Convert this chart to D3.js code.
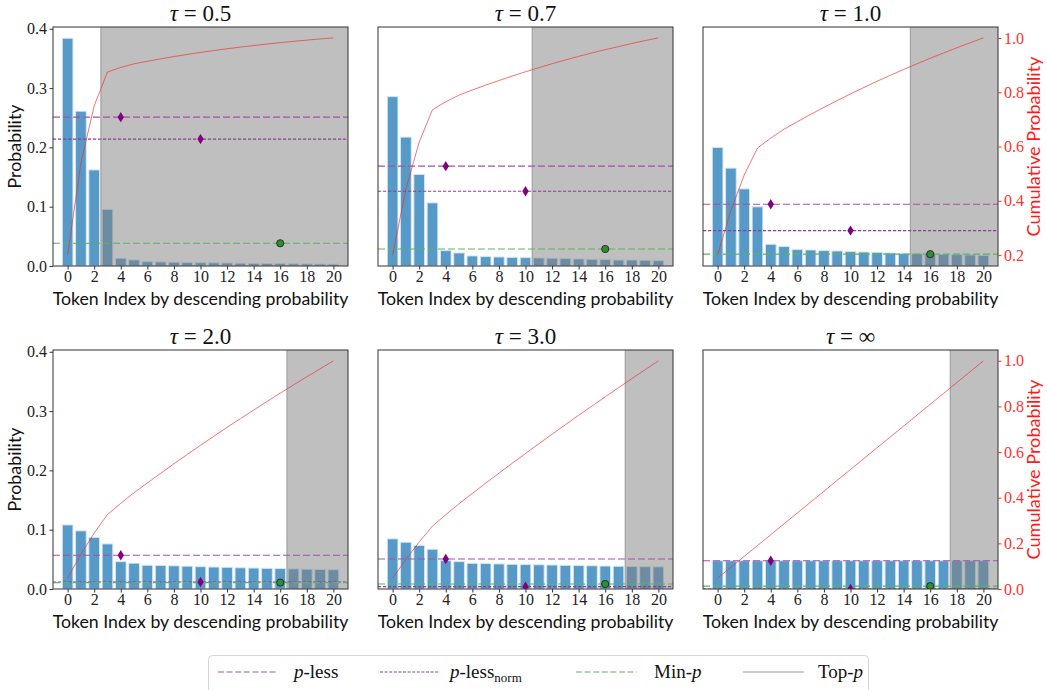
<!DOCTYPE html>
<html>
<head>
<meta charset="utf-8">
<script src="https://cdn.jsdelivr.net/npm/d3@7"></script>
<style>
    body { margin: 0; background: #fff; }
</style>
</head>
<body>
<svg id="chart" width="1047" height="690"></svg>
<script>
// ---- data ----
let temperatures = ["0.5", "0.7", "1.0", "2.0", "3.0", "\u221E"];
let tokenIndex = [0, 1, 2, 3, 4, 5, 6, 7, 8, 9, 10, 11, 12, 13, 14, 15, 16, 17, 18, 19, 20];

let probsT05 = [0.384, 0.261, 0.162, 0.0956, 0.013, 0.0103, 0.0072, 0.0069, 0.0064, 0.0061, 0.0056,
    0.0053, 0.0051, 0.0047, 0.0044, 0.0042, 0.0040, 0.0037, 0.0035, 0.0033, 0.0031];
let probsT07 = [0.2855, 0.2173, 0.1543, 0.1064, 0.0259, 0.022, 0.0169, 0.0158, 0.0152, 0.0146, 0.0141,
    0.0135, 0.013, 0.0124, 0.0118, 0.0113, 0.0107, 0.0101, 0.0101, 0.0096, 0.009];
let probsT10 = [0.1999, 0.165, 0.130, 0.0997, 0.0366, 0.0327, 0.0276, 0.027, 0.0259, 0.0253, 0.0242,
    0.0236, 0.0231, 0.022, 0.0214, 0.0208, 0.0203, 0.0197, 0.0191, 0.0186, 0.018];
let probsT20 = [0.108, 0.098, 0.087, 0.076, 0.046, 0.0435, 0.040, 0.0395, 0.039, 0.0384, 0.0376,
    0.037, 0.0366, 0.0358, 0.0353, 0.0348, 0.0344, 0.0339, 0.0334, 0.0329, 0.0324];
let probsT30 = [0.0845, 0.0788, 0.0732, 0.067, 0.0478, 0.0461, 0.0433, 0.0428, 0.0422, 0.0416, 0.0411,
    0.0408, 0.0404, 0.0399, 0.0394, 0.0391, 0.0387, 0.0383, 0.038, 0.0376, 0.0373];
let probsTInf = [0.0476, 0.0476, 0.0476, 0.0476, 0.0476, 0.0476, 0.0476, 0.0476, 0.0476, 0.0476, 0.0476,
    0.0476, 0.0476, 0.0476, 0.0476, 0.0476, 0.0476, 0.0476, 0.0476, 0.0476, 0.0476];

let plessThreshold     = [0.251, 0.1684, 0.1042, 0.0569, 0.0507, 0.0476];
let plessNormThreshold = [0.214, 0.1261, 0.0597, 0.0118, 0.0040, 0.0];
let minpThreshold      = [0.0383, 0.0287, 0.0200, 0.0108, 0.0084, 0.0048];
let topPCutoff         = [2.5, 10.5, 14.5, 16.5, 17.5, 17.5];

// where the threshold markers sit on the x axis
let markerIndex = {pless: 4, plessNorm: 10, minp: 16};

let xTicks = [0, 2, 4, 6, 8, 10, 12, 14, 16, 18, 20];
let yTicks = [0, 0.1, 0.2, 0.3, 0.4];
// right-hand (cumulative) ticks, shown on the last column only
let cumTicksTop = [0.2, 0.4, 0.6, 0.8, 1.0];
let cumTicksBottom = [0.0, 0.2, 0.4, 0.6, 0.8, 1.0];

let allProbs = [probsT05, probsT07, probsT10, probsT20, probsT30, probsTInf];

// ---- layout ----
let serif = '"Liberation Serif", "DejaVu Serif", serif';
let sans = 'Lato, "Open Sans", sans-serif';

let colX = [53, 378, 703];
let rowY = [27, 350];
let axW = 295, axH = 239;

let svg = d3.select("#chart");

let x = d3.scaleLinear().domain([-1.1, 21.1]).range([0, axW]);
let y = d3.scaleLinear().domain([0, 0.403]).range([axH, 0]);

let plessColor = "#a850a8";
let plessNormColor = "#8e3c9c";
let minpColor = "#5fb35f";

let diamond = "M0,-5.2L3.2,0L0,5.2L-3.2,0Z";

// shrink / grow a text so it spans a given width
function fitText(sel, width) {
    let node = sel.node();
    let size = parseFloat(sel.attr("font-size"));
    let len = node.getComputedTextLength();
    sel.attr("font-size", (size * width / len).toFixed(2));
}

allProbs.forEach((probs, i) => {
    let col = i % 3, row = Math.floor(i / 3);
    let g = svg.append("g").attr("transform", `translate(${colX[col]},${rowY[row]})`);

    g.append("clipPath").attr("id", "clip" + i)
        .append("rect").attr("width", axW).attr("height", axH);

    let plot = g.append("g").attr("clip-path", `url(#clip${i})`);

    // bars
    plot.selectAll("rect.bar")
        .data(probs)
        .join("rect")
        .attr("class", "bar")
        .attr("x", (d, j) => x(tokenIndex[j] - 0.4))
        .attr("width", x(0.8) - x(0))
        .attr("y", d => y(d))
        .attr("height", d => y(0) - y(d))
        .attr("fill", "#1f77b4")
        .attr("fill-opacity", 0.75)
        .attr("stroke", "#d4e6f3")
        .attr("stroke-width", 0.9);

    // top-p excluded region
    let cut = topPCutoff[i];
    plot.append("rect")
        .attr("x", x(cut))
        .attr("y", 0)
        .attr("width", axW - x(cut))
        .attr("height", axH)
        .attr("fill", "#808080")
        .attr("fill-opacity", 0.5);
    plot.append("line")
        .attr("x1", x(cut)).attr("x2", x(cut))
        .attr("y1", 0).attr("y2", axH)
        .attr("stroke", "#808080")
        .attr("stroke-opacity", 0.7)
        .attr("stroke-width", 1);

    // thresholds
    let hline = (val, color, dash) => {
        plot.append("line")
            .attr("x1", 0).attr("x2", axW)
            .attr("y1", y(val)).attr("y2", y(val))
            .attr("stroke", color)
            .attr("stroke-width", 1.1)
            .attr("stroke-dasharray", dash);
    };
    hline(plessThreshold[i], plessColor, "7,3");
    hline(plessNormThreshold[i], plessNormColor, "3.2,1.8");
    hline(minpThreshold[i], minpColor, "7,3");

    plot.append("path")
        .attr("d", diamond)
        .attr("transform", `translate(${x(markerIndex.pless)},${y(plessThreshold[i])})`)
        .attr("fill", "#800080");
    plot.append("path")
        .attr("d", diamond)
        .attr("transform", `translate(${x(markerIndex.plessNorm)},${y(plessNormThreshold[i])})`)
        .attr("fill", "#800080");
    plot.append("circle")
        .attr("cx", x(markerIndex.minp))
        .attr("cy", y(minpThreshold[i]))
        .attr("r", 3.6)
        .attr("fill", "#2f8f2f")
        .attr("stroke", "#222")
        .attr("stroke-width", 0.9);

    // cumulative probability on its own (twin) scale
    let cum = Array.from(d3.cumsum(probs));
    let ext = d3.extent(cum);
    let pad = (ext[1] - ext[0]) * 0.05;
    let yc = d3.scaleLinear().domain([ext[0] - pad, ext[1] + pad]).range([axH, 0]);

    g.append("path")
        .datum(cum)
        .attr("d", d3.line().x((d, j) => x(tokenIndex[j])).y(d => yc(d)))
        .attr("fill", "none")
        .attr("stroke", "#f03030")
        .attr("stroke-opacity", 0.75)
        .attr("stroke-width", 0.9);

    // frame
    g.append("rect")
        .attr("width", axW).attr("height", axH)
        .attr("fill", "none")
        .attr("stroke", "#333")
        .attr("stroke-width", 1);

    // x axis
    let xAxis = g.append("g")
        .attr("transform", `translate(0,${axH})`)
        .call(d3.axisBottom(x).tickValues(xTicks).tickFormat(d3.format("d")).tickSize(3.5).tickPadding(1.5));
    xAxis.select(".domain").remove();
    xAxis.selectAll(".tick line").attr("stroke", "#333");
    xAxis.selectAll(".tick text")
        .attr("font-family", serif).attr("font-size", 16).attr("fill", "#222");

    let xl = g.append("text")
        .attr("x", axW / 2).attr("y", axH + 39)
        .attr("text-anchor", "middle")
        .attr("font-family", sans).attr("font-size", 19)
        .attr("fill", "#111")
        .text("Token Index by descending probability");
    fitText(xl, 296);

    // title
    let title = g.append("text")
        .attr("x", axW / 2).attr("y", -6)
        .attr("text-anchor", "middle")
        .attr("font-family", serif).attr("font-size", 23)
        .attr("fill", "#111");
    title.append("tspan").attr("font-style", "italic").text("\u03C4");
    title.append("tspan").text(" = " + temperatures[i]);

    // left axis only on first column
    if (col === 0) {
        let yAxis = g.append("g")
            .call(d3.axisLeft(y).tickValues(yTicks).tickFormat(d3.format(".1f")).tickSize(3.5).tickPadding(2.5));
        yAxis.select(".domain").remove();
        yAxis.selectAll(".tick line").attr("stroke", "#333");
        yAxis.selectAll(".tick text")
            .attr("font-family", serif).attr("font-size", 16).attr("fill", "#222");

        let yl = g.append("text")
            .attr("transform", `translate(-32,${axH / 2}) rotate(-90)`)
            .attr("text-anchor", "middle")
            .attr("font-family", sans).attr("font-size", 19)
            .attr("fill", "#111")
            .text("Probability");
        fitText(yl, 84);
    }

    // right (cumulative) axis only on last column
    if (col === 2) {
        let rTicks = row === 0 ? cumTicksTop : cumTicksBottom;
        let rAxis = g.append("g")
            .attr("transform", `translate(${axW},0)`)
            .call(d3.axisRight(yc).tickValues(rTicks).tickFormat(d3.format(".1f")).tickSize(3.5).tickPadding(2.5));
        rAxis.select(".domain").remove();
        rAxis.selectAll(".tick line").attr("stroke", "#ff3030");
        rAxis.selectAll(".tick text")
            .attr("font-family", serif).attr("font-size", 16).attr("fill", "#ff3030");

        let rl = g.append("text")
            .attr("transform", `translate(${axW + 42},${axH / 2}) rotate(-90)`)
            .attr("text-anchor", "middle")
            .attr("font-family", sans).attr("font-size", 19)
            .attr("fill", "#ff1a1a")
            .text("Cumulative Probability");
        fitText(rl, 180);
    }
});

// ---- legend ----
let legend = svg.append("g");
legend.append("rect")
    .attr("x", 208.5).attr("y", 655.5)
    .attr("width", 660).attr("height", 40)
    .attr("rx", 4)
    .attr("fill", "#fff")
    .attr("stroke", "#d6d6d6");

let legendItems = [
    {x1: 218, x2: 276, tx: 294, color: plessColor, dash: "6,2.6", key: "pless"},
    {x1: 380, x2: 440, tx: 450, color: plessNormColor, dash: "3,1.6", key: "plessNorm"},
    {x1: 576, x2: 637, tx: 654, color: minpColor, dash: "6,2.6", key: "minp"},
    {x1: 743, x2: 804, tx: 818, color: "#9a9a9a", dash: null, key: "topp"}
];
let ly = 672;
legendItems.forEach(it => {
    legend.append("line")
        .attr("x1", it.x1).attr("x2", it.x2)
        .attr("y1", ly).attr("y2", ly)
        .attr("stroke", it.color)
        .attr("stroke-width", 1.1)
        .attr("stroke-dasharray", it.dash);

    let t = legend.append("text")
        .attr("x", it.tx).attr("y", ly + 6)
        .attr("font-family", serif).attr("font-size", 19)
        .attr("fill", "#111");
    if (it.key === "pless") {
        t.append("tspan").attr("font-style", "italic").text("p");
        t.append("tspan").text("-less");
    } else if (it.key === "plessNorm") {
        t.append("tspan").attr("font-style", "italic").text("p");
        t.append("tspan").text("-less");
        t.append("tspan").attr("font-size", 13).attr("dy", 4).text("norm");
    } else if (it.key === "minp") {
        t.append("tspan").text("Min-");
        t.append("tspan").attr("font-style", "italic").text("p");
    } else {
        t.append("tspan").text("Top-");
        t.append("tspan").attr("font-style", "italic").text("p");
    }
});
</script>
</body>
</html>
